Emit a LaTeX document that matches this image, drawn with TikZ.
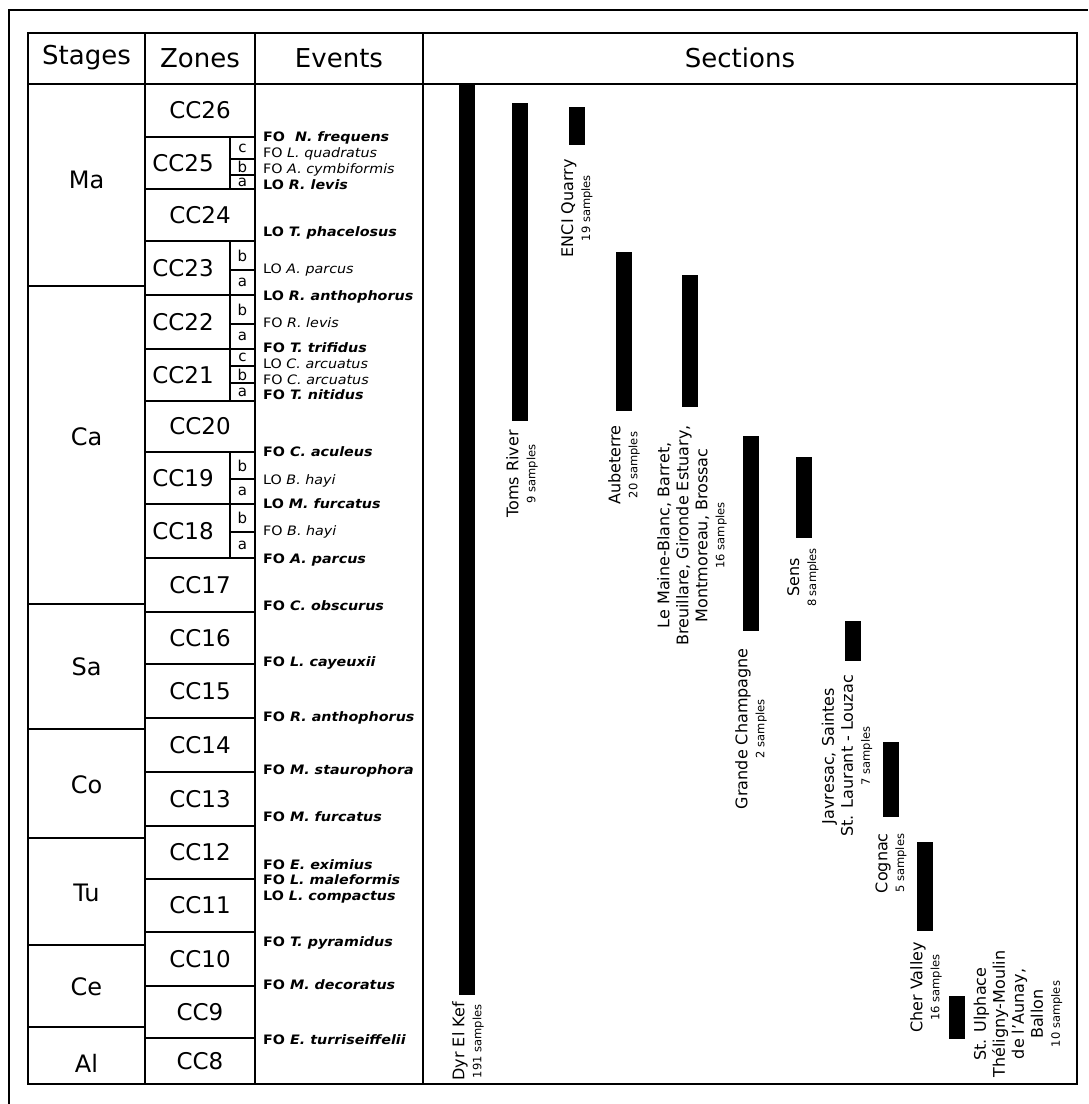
\documentclass[tikz,border=0pt]{standalone}
\usepackage{fontspec}
\setmainfont{DejaVu Sans}
\newfontfamily\evfont[FakeStretch=1.1]{DejaVu Sans}
\usepackage{tikz}
\usetikzlibrary{positioning}

\tikzset{
  tabline/.style={line width=1.2pt},
  head/.style={font=\fontsize{26}{30}\selectfont},
  stage/.style={font=\fontsize{24}{28}\selectfont},
  zone/.style={font=\fontsize{23}{27}\selectfont},
  subz/.style={inner sep=0pt, font=\fontsize{15}{18}\selectfont},
  ev/.style={anchor=mid west, inner sep=0pt, font=\evfont\fontsize{13}{15}\selectfont},
  sect/.style={rotate=90, anchor=east, align=center, inner sep=0pt, font=\fontsize{16}{19}\selectfont},
  bar/.style={fill=black}
}
\newcommand{\smp}[1]{{\fontsize{11.5}{13}\selectfont #1 samples}}

\begin{document}
\begin{tikzpicture}[x=1pt, y=-1pt]
  \useasboundingbox (0,0) rectangle (1088,1104);
  \draw[line width=1.6pt] (9,1104) -- (9,10) -- (1088,10);
  \draw[tabline] (28,33) rectangle (1077,1084);
  \draw[tabline] (28,84) -- (1077,84);
  \foreach \x in {145,255,423} \draw[tabline] (\x,33) -- (\x,1084);

  \node[head] (hstage) at (86.5,58) {Stages};
  \node[head] (hzone) at (200,58) {Zones};
  \node[head] (hevent) at (339,58) {Events};
  \node[head] (hsect) at (740,58) {Sections};

  \foreach \n/\b/\ly in {Ma/286/180, Ca/604/437, Sa/729/667, Co/838/785, Tu/945/893, Ce/1027/987, Al/1084/1063} {
    \draw[tabline] (28,\b) -- (145,\b);
    \node[stage] (st\n) at (86.5,\ly) {\n};
  }

  \foreach \n/\a/\b/\s in {26/84/137/0, 25/137/189/1, 24/189/241/0, 23/241/295/1, 22/295/349/1, 21/349/401/1,
      20/401/452/0, 19/452/504/1, 18/504/558/1, 17/558/612/0, 16/612/664/0, 15/664/718/0, 14/718/772/0,
      13/772/826/0, 12/826/879/0, 11/879/932/0, 10/932/986/0, 9/986/1038/0, 8/1038/1084/0} {
    \draw[tabline] (145,\b) -- (255,\b);
    \pgfmathsetmacro\zx{\s==1 ? 183 : 200}
    \ifnum\s=1 \draw[tabline] (230,\a) -- (230,\b); \fi
    \node[zone] (cc\n) at (\zx,{(\a+\b)/2}) {CC\n};
  }

  \foreach \z/\l/\a/\b in {25/c/137/159, 25/b/159/175, 25/a/175/189, 23/b/241/270, 23/a/270/295,
      22/b/295/324, 22/a/324/349, 21/c/349/366, 21/b/366/383, 21/a/383/401,
      19/b/452/479, 19/a/479/504, 18/b/504/532, 18/a/532/558} {
    \draw[tabline] (230,\b) -- (255,\b);
    \node[subz] (s\z\l) at (242.5,{(\a+\b)/2}) {\l};
  }

  \foreach \y/\t [count=\i] in {
      139/\textbf{FO \ \textit{N. frequens}},
      155/FO \textit{L. quadratus},
      171/FO \textit{A. cymbiformis},
      187/\textbf{LO \textit{R. levis}},
      234/\textbf{LO \textit{T. phacelosus}},
      271/LO \textit{A. parcus},
      298/\textbf{LO \textit{R. anthophorus}},
      325/FO \textit{R. levis},
      350/\textbf{FO \textit{T. trifidus}},
      366/LO \textit{C. arcuatus},
      382/FO \textit{C. arcuatus},
      397/\textbf{FO \textit{T. nitidus}},
      454/\textbf{FO \textit{C. aculeus}},
      482/LO \textit{B. hayi},
      506/\textbf{LO \textit{M. furcatus}},
      533/FO \textit{B. hayi},
      561/\textbf{FO \textit{A. parcus}},
      608/\textbf{FO \textit{C. obscurus}},
      664/\textbf{FO \textit{L. cayeuxii}},
      719/\textbf{FO \textit{R. anthophorus}},
      772/\textbf{FO \textit{M. staurophora}},
      819/\textbf{FO \textit{M. furcatus}},
      867/\textbf{FO \textit{E. eximius}},
      882/\textbf{FO \textit{L. maleformis}},
      898/\textbf{LO \textit{L. compactus}},
      944/\textbf{FO \textit{T. pyramidus}},
      987/\textbf{FO \textit{M. decoratus}},
      1042/\textbf{FO \textit{E. turriseiffelii}}} {
    \node[ev] (ev\i) at (263,\y) {\t};
  }

  \foreach \n/\x/\a/\b/\lx/\ly/\t in {
      dyr/467/84/995/468/1002/{Dyr El Kef\\[-2pt]\smp{191}},
      toms/520/103/421/522/430/{Toms River\\[-2pt]\smp{9}},
      enci/577/107/145/577/159/{ENCI Quarry\\[-2pt]\smp{19}},
      aube/624/252/411/624/425/{Aubeterre\\[-2pt]\smp{20}},
      maine/690/275/407/692/425/{Le Maine-Blanc, Barret,\\Breuillare, Gironde Estuary,\\Montmoreau, Brossac\\[-2pt]\smp{16}},
      grande/750.5/436/631/751/648/{Grande Champagne\\[-2pt]\smp{2}},
      sens/804/457/538/803/548/{Sens\\[-2pt]\smp{8}},
      javre/853/621/661/847/675/{Javresac, Saintes\\St. Laurant - Louzac\\[-2pt]\smp{7}},
      cognac/891/742/817/891/833/{Cognac\\[-2pt]\smp{5}},
      cher/925/842/931/926/942/{Cher Valley\\[-2pt]\smp{16}}} {
    \fill[bar] (\x-8,\a) rectangle (\x+8,\b);
    \node[sect] (\n) at (\lx,\ly) {\t};
  }
  \fill[bar] (949,996) rectangle (965,1039);
  \node[sect, anchor=center] (ulph) at (1018,1014) {St. Ulphace\\Théligny-Moulin\\de l'Aunay,\\Ballon\\[-2pt]\smp{10}};
\end{tikzpicture}
\end{document}
